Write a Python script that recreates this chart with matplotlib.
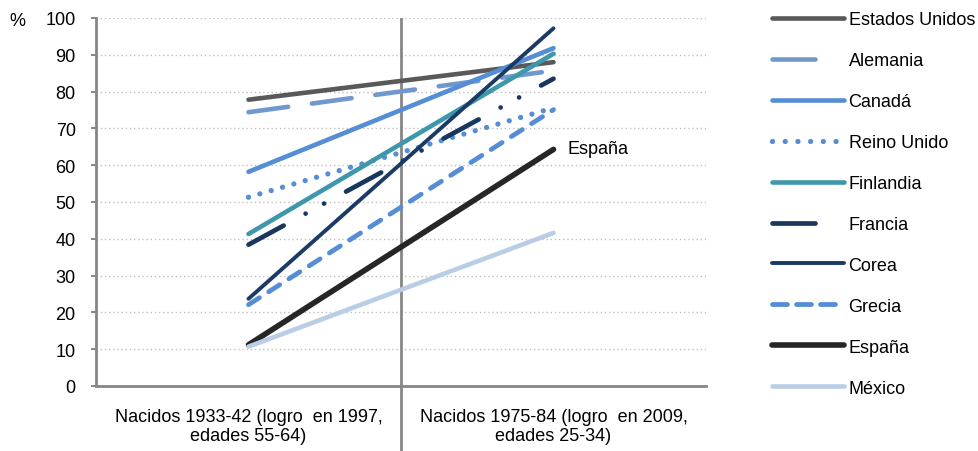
import matplotlib
matplotlib.use("Agg")
import matplotlib.pyplot as plt
from matplotlib.lines import Line2D

plt.rcParams['font.family'] = ['Liberation Sans', 'DejaVu Sans']
plt.rcParams['lines.scale_dashes'] = False

categories = ["Nacidos 1933-42 (logro  en 1997,\nedades 55-64)",
              "Nacidos 1975-84 (logro  en 2009,\nedades 25-34)"]
countries = ["Estados Unidos", "Alemania", "Canadá", "Reino Unido", "Finlandia",
             "Francia", "Corea", "Grecia", "España", "México"]
values_1997 = [77.8, 74.4, 58.2, 51.3, 41.3, 38.4, 23.7, 22.1, 11.2, 10.7]
values_2009 = [88.0, 85.7, 91.8, 75.6, 90.3, 83.5, 97.2, 75.1, 64.3, 41.6]
y_ticks = [0, 10, 20, 30, 40, 50, 60, 70, 80, 90, 100]

PX = 0.72  # points per pixel at dpi 100
FS = 13
styles = {
    "Estados Unidos": dict(color="#595959", lw=4.6 * PX),
    "Alemania": dict(color="#6F99CD", lw=4.6 * PX, dashes=(40 * PX, 24 * PX)),
    "Canadá": dict(color="#558ED5", lw=4.6 * PX),
    "Reino Unido": dict(color="#558ED5", lw=5.3 * PX, dashes=(0.01, 11.8 * PX)),
    "Finlandia": dict(color="#3F97AC", lw=4.6 * PX),
    "Francia": dict(color="#17375E", lw=4.7 * PX,
                    dashes=(40 * PX, 25 * PX, 0.01, 21 * PX, 0.01, 25 * PX)),
    "Corea": dict(color="#1B3A66", lw=3.9 * PX),
    "Grecia": dict(color="#558ED5", lw=4.8 * PX, dashes=(13 * PX, 11 * PX)),
    "España": dict(color="#262626", lw=5.6 * PX),
    "México": dict(color="#B9CDE5", lw=4.6 * PX),
}
legend_dashes = {
    "Alemania": (43 * PX, 60 * PX),
    "Francia": (43 * PX, 60 * PX),
    "Reino Unido": (0.01, 12.7 * PX),
    "Grecia": (15 * PX, 9 * PX),
}

fig = plt.figure(figsize=(9.79, 4.52), dpi=100)
W, H = 979, 452
ax = fig.add_axes([96 / W, (H - 387) / H, (706 - 96) / W, (387 - 19) / H])

x = [0, 1]
handles = []
for i, c in enumerate(countries):
    st = dict(styles[c])
    dashes = st.pop("dashes", None)
    ln, = ax.plot(x, [values_1997[i], values_2009[i]], label=c,
                  solid_capstyle='round', dash_capstyle='round', **st)
    if dashes is not None:
        ln.set_dashes(dashes)
    h = Line2D([], [], color=st["color"], lw=st["lw"],
               solid_capstyle='round', dash_capstyle='round', label=c)
    if c in legend_dashes:
        h.set_dashes(legend_dashes[c])
    handles.append(h)

ax.set_xlim(-0.5, 1.5)
ax.set_ylim(0, 100)
ax.set_yticks(y_ticks)
ax.set_yticklabels([str(t) for t in y_ticks], fontsize=FS)
ax.set_xticks(x)
ax.set_xticklabels(categories, fontsize=FS, linespacing=1.1)
ax.tick_params(axis='x', length=0, pad=16)
ax.tick_params(axis='y', length=3.6, width=1.4, color="#868686", pad=11)

ax.grid(axis='y', color="#BFBFBF", linestyle=(0, (1, 2)), linewidth=1.0)
ax.set_axisbelow(True)
for s in ['top', 'right']:
    ax.spines[s].set_visible(False)
for s in ['left', 'bottom']:
    ax.spines[s].set_color("#868686")
    ax.spines[s].set_linewidth(2.0)

# category divider
ax.plot([0.5, 0.5], [0, 100], color="#868686", lw=2.0, zorder=1.5)
ax.plot([0.5, 0.5], [0, -18], color="#868686", lw=2.0, clip_on=False)

ax.text(1.0 + 0.045, values_2009[countries.index("España")] + 0.3, "España",
        fontsize=FS, va='center', ha='left')
fig.text(17 / W, 1 - 21 / H, "%", fontsize=FS, ha='center', va='center')

leg = fig.legend(handles=handles, loc='upper left',
                 bbox_to_anchor=(765 / W, 1 - 5 / H), frameon=False,
                 fontsize=FS, handlelength=3.95, handletextpad=0.28,
                 labelspacing=1.325, borderaxespad=0)

fig.savefig("out.png", dpi=100)
